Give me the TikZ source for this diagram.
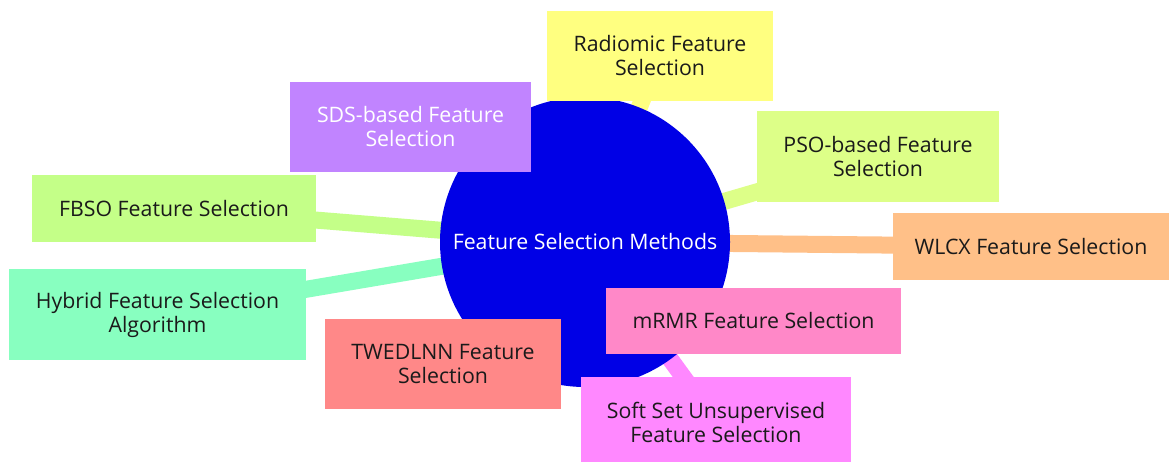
\documentclass[tikz,border=0pt]{standalone}
\usepackage{fontspec}
\setmainfont{Open Sans}
\pgfdeclarelayer{paper}
\pgfdeclarelayer{bg}
\pgfsetlayers{paper,bg,main}
\definecolor{cblue}{HTML}{0000E6}
\definecolor{cyel}{HTML}{FFFF80}
\definecolor{cpur}{HTML}{C184FF}
\definecolor{cpso}{HTML}{DDFF88}
\definecolor{cfbso}{HTML}{C4FF88}
\definecolor{corg}{HTML}{FFC088}
\definecolor{cmint}{HTML}{88FFC0}
\definecolor{cpink}{HTML}{FF88C8}
\definecolor{csal}{HTML}{FF8888}
\definecolor{cmag}{HTML}{FF88FF}
\definecolor{ctext}{HTML}{1A1A1A}
\tikzset{
  txt/.style={font=\fontsize{21.3}{24}\selectfont},
  box/.style={rectangle, inner sep=0pt, align=center, text=ctext, txt},
  conn/.style={line width=17pt},
}
\begin{document}
\begin{tikzpicture}[x=1pt,y=-1pt]
\begin{pgfonlayer}{paper}
\fill[white] (0,0) rectangle (1169,461);
\end{pgfonlayer}
\useasboundingbox (0,0) rectangle (1169,461);
\node[circle, fill=cblue, minimum size=290pt, inner sep=0pt, text=white, txt] (c) at (585,242) {Feature Selection Methods};
\node[box, fill=cyel, minimum width=226pt, minimum height=90pt] (rad) at (660,56) {Radiomic Feature\\Selection};
\node[box, fill=cpur, text=white, minimum width=241pt, minimum height=90pt] (sds) at (410.5,127) {SDS-based Feature\\Selection};
\node[box, fill=cpso, minimum width=242pt, minimum height=91pt] (pso) at (878,156.5) {PSO-based Feature\\Selection};
\node[box, fill=cfbso, minimum width=284pt, minimum height=67pt] (fbso) at (174,208.5) {FBSO Feature Selection};
\node[box, fill=corg, minimum width=276pt, minimum height=67pt] (wlcx) at (1031,246.5) {WLCX Feature Selection};
\node[box, fill=cmint, minimum width=297pt, minimum height=91pt] (hyb) at (157.5,314.5) {Hybrid Feature Selection\\Algorithm};
\node[box, fill=cpink, minimum width=295pt, minimum height=66pt] (mrmr) at (753.5,321) {mRMR Feature Selection};
\node[box, fill=csal, minimum width=236pt, minimum height=90pt] (twed) at (443,364) {TWEDLNN Feature\\Selection};
\node[box, fill=cmag, minimum width=270pt, minimum height=90pt] (soft) at (716,422) {Soft Set Unsupervised\\Feature Selection};
\begin{pgfonlayer}{bg}
\draw[conn, cyel] (rad.center) -- (c.center);
\draw[conn, cpur] (sds.center) -- (c.center);
\draw[conn, cpso] (pso.center) -- (c.center);
\draw[conn, cfbso] (fbso.center) -- (c.center);
\draw[conn, corg] (wlcx.center) -- (c.center);
\draw[conn, cmint] (hyb.center) -- (c.center);
\draw[conn, cpink] (mrmr.center) -- (c.center);
\draw[conn, csal] (twed.center) -- (c.center);
\draw[conn, cmag] (soft.center) -- (c.center);
\end{pgfonlayer}
\end{tikzpicture}
\end{document}
